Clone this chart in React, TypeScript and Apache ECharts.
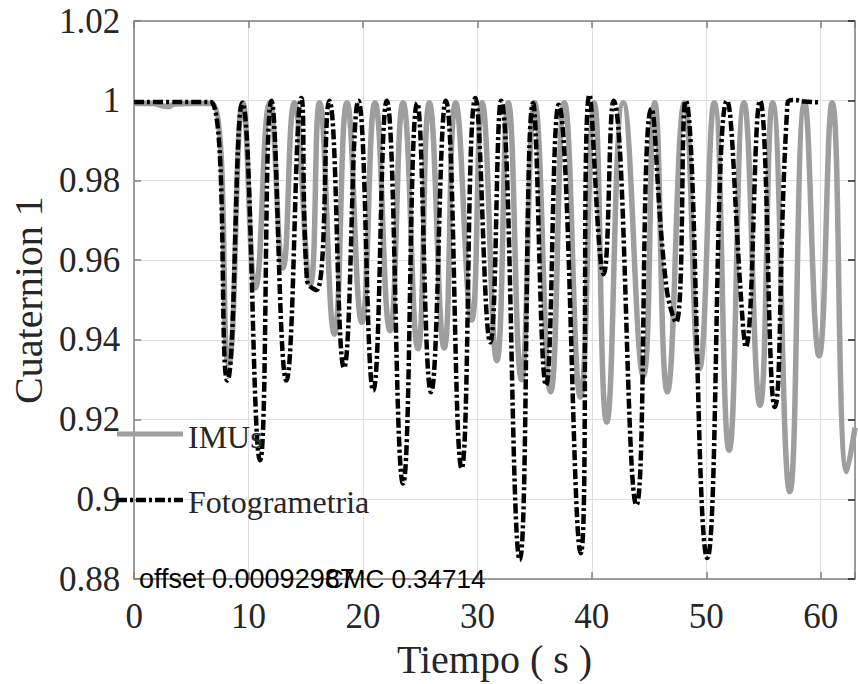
import React, { useEffect, useRef } from "react";
import * as echarts from "echarts";

// IMUs (gray) — time (s) and quaternion values
const imuT = [0, 1.5, 3.0, 3.5, 5.0, 6.8, 8.25, 9.5, 10.6, 11.85, 13.0, 14.0, 15.4, 16.2, 17.5, 18.6, 19.9, 21.05, 22.36, 23.5, 24.8, 25.8, 27.1, 28.1, 29.5, 30.4, 31.7, 32.7, 33.85, 35.0, 36.4, 37.6, 39.0, 40.2, 41.3, 42.75, 44.5, 45.5, 46.6, 48.1, 49.4, 50.7, 52.0, 53.3, 54.7, 55.8, 57.3, 58.6, 59.86, 61.0, 62.3, 63.0];
const imuV = [0.9993, 0.9993, 0.9985, 0.9992, 0.9993, 0.9993, 0.934, 0.9995, 0.953, 0.9995, 0.958, 0.9995, 0.954, 0.9995, 0.9415, 0.9995, 0.9444, 0.9995, 0.9423, 0.9995, 0.9378, 0.9995, 0.938, 0.9995, 0.945, 0.9995, 0.9348, 0.9995, 0.930, 0.9995, 0.927, 0.9995, 0.9257, 0.9995, 0.9194, 0.9995, 0.931, 0.9995, 0.927, 0.9995, 0.9328, 0.9995, 0.9123, 0.9995, 0.9236, 0.9995, 0.9019, 0.9995, 0.936, 0.9995, 0.907, 0.918];

// Fotogrametria (black dash-dot)
const fotoT = [0, 3.0, 6.7, 8.15, 9.45, 11.0, 12.0, 13.3, 14.6, 15.1, 15.95, 17.05, 18.34, 19.6, 20.9, 22.07, 23.5, 24.74, 25.95, 27.24, 28.62, 29.83, 31.12, 32.07, 33.7, 34.86, 36.0, 37.1, 39.03, 39.8, 41.03, 41.9, 43.9, 45.2, 46.5, 47.36, 48.2, 50.09, 51.8, 53.2, 53.45, 54.7, 55.98, 57.1, 57.6, 58.5, 59.86];
const fotoV = [0.9997, 0.9997, 0.9997, 0.9298, 0.9995, 0.9098, 1.0, 0.9298, 1.0007, 0.955, 0.9525, 1.0, 0.933, 1.0, 0.9273, 1.0, 0.904, 0.9994, 0.9269, 1.0, 0.9078, 1.0007, 0.9394, 1.0, 0.8848, 0.9994, 0.9286, 0.999, 0.8865, 1.0015, 0.9565, 1.0, 0.8986, 0.998, 0.9536, 0.9444, 1.0, 0.8853, 1.0, 0.944, 0.9382, 1.0, 0.9232, 0.9994, 1.0002, 0.9998, 0.9996];

const seriesNames = ["IMUs", "Fotogrametria"];
const xTicks = [0, 10, 20, 30, 40, 50, 60];
const offsetText = "offset 0.00092987";
const cmcText = "CMC 0.34714";
const xTitle = "Tiempo ( s )";
const yTitle = "Cuaternion 1";

const SERIF = "'Liberation Serif', 'Times New Roman', serif";
const SANS = "'Liberation Sans', Arial, sans-serif";
const AXIS_COLOR = "#808080";
const TEXT_COLOR = "#262626";
const GRAY = "#9e9e9e";

export default function App() {
  const ref = useRef<HTMLDivElement>(null);
  useEffect(() => {
    if (!ref.current) return;
    const chart = echarts.init(ref.current, null, { renderer: "svg" });
    const dash = [10, 3, 3, 3];
    const legendRows = [
      { name: seriesNames[0], lineY: 434, textY: 437, stroke: GRAY, width: 5, lineDash: null as number[] | null },
      { name: seriesNames[1], lineY: 500, textY: 502, stroke: "#000", width: 4.5, lineDash: dash },
    ];
    const legendGraphics: any[] = [];
    legendRows.forEach((r) => {
      legendGraphics.push({
        type: "line",
        z: 10,
        shape: { x1: 117, y1: r.lineY, x2: 183, y2: r.lineY },
        style: { stroke: r.stroke, lineWidth: r.width, lineDash: r.lineDash },
      });
      legendGraphics.push({
        type: "text",
        z: 10,
        style: { text: r.name, x: 188, y: r.textY, fontSize: 32, fontFamily: SERIF, fill: TEXT_COLOR, align: "left", verticalAlign: "middle" },
      });
    });
    chart.setOption({
      animation: false,
      grid: { left: 132.3, right: -5.1, top: 21, bottom: 104 },
      xAxis: [
        {
          type: "value",
          min: 0,
          max: 63,
          interval: 10,
          name: xTitle,
          nameLocation: "middle",
          nameGap: 53,
          nameTextStyle: { fontSize: 40, fontFamily: SERIF, color: TEXT_COLOR },
          axisLine: { show: true, onZero: false, lineStyle: { color: AXIS_COLOR, width: 1.5 } },
          axisTick: { show: true, inside: true, length: 7, lineStyle: { color: AXIS_COLOR, width: 1.5 } },
          axisLabel: {
            fontSize: 35,
            fontFamily: SERIF,
            color: TEXT_COLOR,
            margin: 20,
            formatter: (v: number) => (xTicks.includes(Math.round(v * 1000) / 1000) ? String(v) : ""),
          },
          splitLine: { show: true, lineStyle: { color: "#dedede", width: 1 } },
        },
        {
          type: "value",
          position: "top",
          min: 0,
          max: 63,
          interval: 10,
          axisLine: { show: true, onZero: false, lineStyle: { color: AXIS_COLOR, width: 1.5 } },
          axisTick: { show: true, inside: true, length: 7, lineStyle: { color: AXIS_COLOR, width: 1.5 } },
          axisLabel: { show: false },
          splitLine: { show: false },
        },
      ],
      yAxis: [
        {
          type: "value",
          min: 0.88,
          max: 1.02,
          interval: 0.02,
          name: yTitle,
          nameLocation: "middle",
          nameGap: 86,
          nameTextStyle: { fontSize: 40, fontFamily: SERIF, color: TEXT_COLOR },
          axisLine: { show: true, onZero: false, lineStyle: { color: AXIS_COLOR, width: 1.5 } },
          axisTick: { show: true, inside: true, length: 7, lineStyle: { color: AXIS_COLOR, width: 1.5 } },
          axisLabel: {
            fontSize: 35,
            fontFamily: SERIF,
            color: TEXT_COLOR,
            margin: 14,
            formatter: (v: number) => String(parseFloat(v.toFixed(2))),
          },
          splitLine: { show: true, lineStyle: { color: "#dedede", width: 1 } },
        },
        {
          type: "value",
          position: "right",
          min: 0.88,
          max: 1.02,
          interval: 0.02,
          axisLine: { show: true, onZero: false, lineStyle: { color: AXIS_COLOR, width: 1.5 } },
          axisTick: { show: true, inside: true, length: 7, lineStyle: { color: "#222", width: 1.5 } },
          axisLabel: { show: false },
          splitLine: { show: false },
        },
      ],
      series: [
        {
          name: seriesNames[0],
          type: "line",
          data: imuT.map((t, i) => [t, imuV[i]]),
          showSymbol: false,
          symbol: "none",
          smooth: 0.5,
          lineStyle: { color: GRAY, width: 5.5 },
          itemStyle: { color: GRAY },
          z: 2,
        },
        {
          name: seriesNames[1],
          type: "line",
          data: fotoT.map((t, i) => [t, fotoV[i]]),
          showSymbol: false,
          symbol: "none",
          smooth: 0.5,
          lineStyle: { color: "#000", width: 4.5, type: dash },
          itemStyle: { color: "#000" },
          z: 3,
        },
      ],
      graphic: [
        ...legendGraphics,
        {
          type: "text",
          z: 10,
          style: { text: offsetText, x: 139, y: 578.6, fontSize: 27, fontFamily: SANS, fill: "#000", align: "left", verticalAlign: "middle" },
        },
        {
          type: "text",
          z: 10,
          style: { text: cmcText, x: 325, y: 579, fontSize: 26, fontFamily: SANS, fill: "#000", align: "left", verticalAlign: "middle" },
        },
      ],
    });
    return () => chart.dispose();
  }, []);
  return <div ref={ref} style={{ position: "fixed", left: 0, top: 0, width: 858, height: 684, background: "#fff" }} />;
}
